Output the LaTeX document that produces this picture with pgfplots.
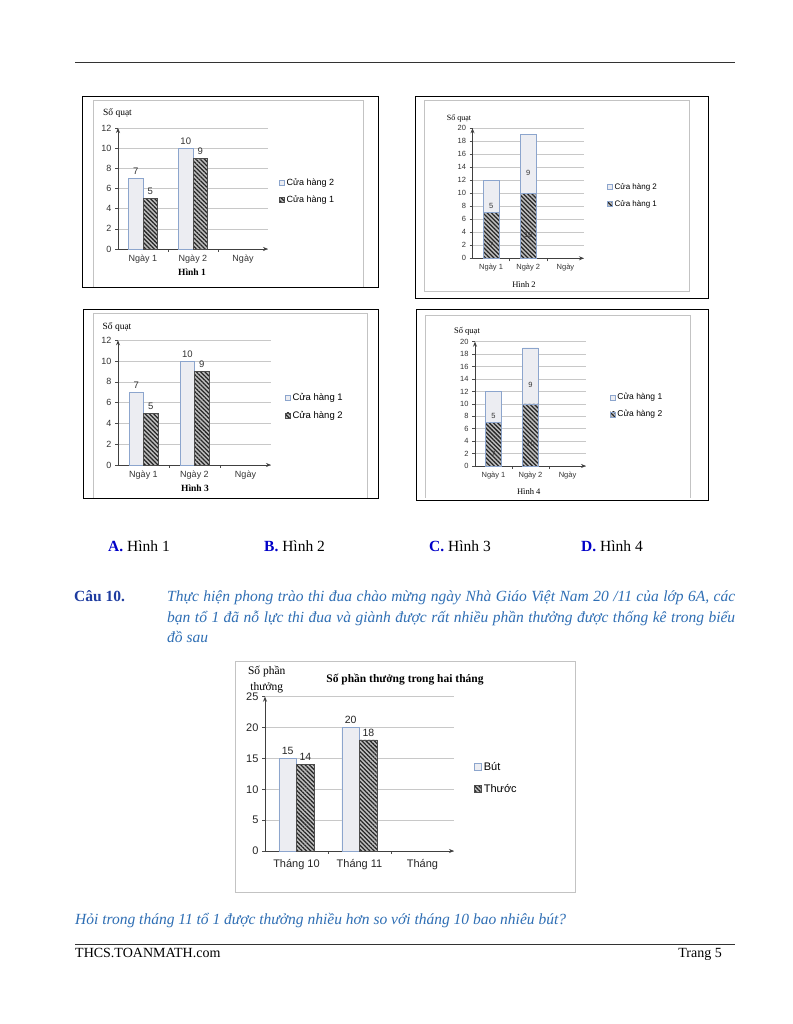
\documentclass[border=0pt]{standalone}
\usepackage{fontspec}
\setmainfont{Liberation Serif}
\newfontfamily\arial{Liberation Sans}
\usepackage{pgfplots}
\pgfplotsset{compat=1.18}
\usetikzlibrary{patterns,patterns.meta,arrows.meta}
\newcommand\fs[1]{\fontsize{#1}{#1}\selectfont}
\definecolor{lb}{RGB}{140,165,205}
\definecolor{dotc}{RGB}{150,170,205}
\definecolor{lightfill}{RGB}{244,244,246}
\definecolor{hatchfill}{RGB}{190,190,190}
\definecolor{gridc}{RGB}{200,200,200}
\definecolor{ablue}{RGB}{0,0,200}
\definecolor{cblue}{RGB}{30,60,160}
\definecolor{iblue}{RGB}{46,110,180}
\definecolor{framegray}{RGB}{195,195,195}
\pgfplotsset{
  chart/.style={
    scale only axis, axis lines=left, clip=false,
    axis line style={black!75, line width=0.7pt},
    x axis line style={-{Stealth[length=5pt,width=4pt]}},
    y axis line style={-{Stealth[length=5pt,width=4pt]}},
    xmin=-0.5, xmax=2.5, ymin=0,
    xtick={0.5,1.5}, xticklabels={,},
    extra x ticks={0,1,2},
    extra x tick style={major tick length=0pt},
    tick align=outside, major tick length=3pt,
    tick style={black!70, line width=0.5pt},
    ymajorgrids, grid style={gridc, line width=0.6pt},
    /pgf/number format/assume math mode=true,
    legend style={draw=none, fill=none, anchor=west, inner sep=0pt, outer sep=0pt},
    legend cell align=left,
  },
  light/.style={fill=lightfill, draw=lb, line width=0.6pt,
    postaction={pattern={Dots[radius=0.4pt,distance=2pt]}, pattern color=dotc}},
  hatch/.style={fill=hatchfill, draw=black!70, line width=0.6pt,
    postaction={pattern={Lines[angle=-45,distance=3pt,line width=1.25pt]}, pattern color=black!85}},
}
\begin{document}
\begin{tikzpicture}[x=1pt,y=1pt]
\fill[white] (0,0) rectangle (792,1024);
\path[use as bounding box] (0,0) rectangle (792,1024);
% top rule
\draw[black!80, line width=0.8pt] (75,962) -- (735,962);

% ---------- Hinh 1 ----------
\draw[black, line width=0.9pt] (82,928) rectangle (378,737);
\draw[framegray, line width=0.8pt] (93,737) -- (93,924) -- (363,924) -- (363,737);
\begin{axis}[chart, at={(118pt,775pt)}, anchor=south west, width=150pt, height=121pt,
  ymax=12, ytick={0,2,...,12}, ybar=0pt, bar width=14.5pt,
  extra x tick labels={Ngày 1,Ngày 2,Ngày},
  ticklabel style={font=\arial\fs{9}, text=black!80},
  xticklabel style={yshift=-2.5pt},
  nodes near coords, nodes near coords style={font=\arial\fs{9.5}, text=black!80},
  legend style={at={(1.073,0.475)}, font=\arial\fs{9}, row sep=5pt},
  legend image code/.code={\draw[#1] (0pt,-2.5pt) rectangle (5pt,2.5pt);},
]
\addplot[light] coordinates {(0,7) (1,10)};
\addlegendentry{Cửa hàng 2}
\addplot[hatch] coordinates {(0,5) (1,9)};
\addlegendentry{Cửa hàng 1}
\end{axis}
\node[font=\fs{9.5}] at (117.5,910.7) {Số quạt};
\node[font=\bfseries\fs{9.5}] at (192,752) {Hình 1};

% ---------- Hinh 2 ----------
\draw[black, line width=0.9pt] (415,928) rectangle (708,726);
\draw[framegray, line width=0.8pt] (424,733) rectangle (689,924);
\begin{axis}[chart, at={(472.5pt,765.7pt)}, anchor=south west, width=111.5pt, height=130pt,
  ymax=20, ytick={0,2,...,20}, ybar stacked, bar width=15.7pt,
  extra x tick labels={Ngày 1,Ngày 2,Ngày},
  ticklabel style={font=\arial\fs{7.5}, text=black!80},
  xticklabel style={yshift=-2pt},
  nodes near coords, point meta=explicit,
  nodes near coords style={font=\arial\fs{7.5}, text=black!80, anchor=north, yshift=-3pt},
  legend style={at={(1.207,0.483)}, font=\arial\fs{8}, row sep=5pt},
  reverse legend,
  legend image code/.code={\draw[#1] (0pt,-2.5pt) rectangle (5pt,2.5pt);},
]
\addplot[hatch, draw=lb] coordinates {(0,7) [7] (1,10) [10]};
\addlegendentry{Cửa hàng 1}
\addplot[light] coordinates {(0,5) [5] (1,9) [9]};
\addlegendentry{Cửa hàng 2}
\end{axis}
\node[font=\fs{8}] at (459,905.7) {Số quạt};
\node[font=\fs{8.5}] at (524,739) {Hình 2};

% ---------- Hinh 3 ----------
\draw[black, line width=0.9pt] (83,715) rectangle (378,526);
\draw[framegray, line width=0.8pt] (93,526) -- (93,711) -- (367,711) -- (367,526);
\begin{axis}[chart, at={(118pt,559pt)}, anchor=south west, width=153pt, height=124.7pt,
  ymax=12, ytick={0,2,...,12}, ybar=0pt, bar width=14.3pt,
  extra x tick labels={Ngày 1,Ngày 2,Ngày},
  ticklabel style={font=\arial\fs{9}, text=black!80},
  xticklabel style={yshift=-2.5pt},
  nodes near coords, nodes near coords style={font=\arial\fs{9.5}, text=black!80},
  legend style={at={(1.091,0.469)}, font=\arial\fs{9.5}, row sep=5pt},
  legend image code/.code={\draw[#1] (0pt,-2.5pt) rectangle (5pt,2.5pt);},
]
\addplot[light] coordinates {(0,7) (1,10)};
\addlegendentry{Cửa hàng 1}
\addplot[hatch] coordinates {(0,5) (1,9)};
\addlegendentry{Cửa hàng 2}
\end{axis}
\node[font=\fs{9.5}] at (117,697) {Số quạt};
\node[font=\bfseries\fs{9.5}] at (195,536) {Hình 3};

% ---------- Hinh 4 ----------
\draw[black, line width=0.9pt] (416,715) rectangle (708,524);
\draw[framegray, line width=0.8pt] (425,526) -- (425,709) -- (690,709) -- (690,526);
\begin{axis}[chart, at={(475pt,558pt)}, anchor=south west, width=111pt, height=124.3pt,
  ymax=20, ytick={0,2,...,20}, ybar stacked, bar width=16pt,
  extra x tick labels={Ngày 1,Ngày 2,Ngày},
  ticklabel style={font=\arial\fs{7.5}, text=black!80},
  xticklabel style={yshift=-2pt},
  nodes near coords, point meta=explicit,
  nodes near coords style={font=\arial\fs{7.5}, text=black!80, anchor=north, yshift=-3pt},
  legend style={at={(1.214,0.483)}, font=\arial\fs{8.5}, row sep=5pt},
  reverse legend,
  legend image code/.code={\draw[#1] (0pt,-2.5pt) rectangle (5pt,2.5pt);},
]
\addplot[hatch, draw=lb] coordinates {(0,7) [7] (1,10) [10]};
\addlegendentry{Cửa hàng 2}
\addplot[light] coordinates {(0,5) [5] (1,9) [9]};
\addlegendentry{Cửa hàng 1}
\end{axis}
\node[font=\fs{8.5}] at (467,693) {Số quạt};
\node[font=\fs{8.5}] at (528.7,532) {Hình 4};

% ---------- answers ----------
\node[anchor=base west, inner sep=0, font=\fs{15.5}] at (108,472) {\textcolor{ablue}{\textbf{A.}}\ Hình 1};
\node[anchor=base west, inner sep=0, font=\fs{15.5}] at (264,472) {\textcolor{ablue}{\textbf{B.}} Hình 2};
\node[anchor=base west, inner sep=0, font=\fs{15.5}] at (429,472) {\textcolor{ablue}{\textbf{C.}} Hình 3};
\node[anchor=base west, inner sep=0, font=\fs{15.5}] at (581,472) {\textcolor{ablue}{\textbf{D.}} Hình 4};

% ---------- Cau 10 ----------
\node[anchor=base west, inner sep=0, font=\bfseries\fs{15.5}, text=cblue] at (74,422) {Câu 10.};
\node[anchor=base west, inner sep=0, font=\itshape\fs{15.5}, text=iblue] at (167,422)
  {\makebox[568pt][s]{Thực hiện phong trào thi đua chào mừng ngày Nhà Giáo Việt Nam 20 /11 của lớp 6A, các}};
\node[anchor=base west, inner sep=0, font=\itshape\fs{15.5}, text=iblue] at (167,401.5)
  {\makebox[568pt][s]{bạn tổ 1 đã nỗ lực thi đua và giành được rất nhiều phần thưởng được thống kê trong biểu}};
\node[anchor=base west, inner sep=0, font=\itshape\fs{15.5}, text=iblue] at (167,381) {đồ sau};

% ---------- chart 5 ----------
\draw[framegray, line width=1pt] (235,362) rectangle (575,131);
\begin{axis}[chart, at={(265pt,173pt)}, anchor=south west, width=189pt, height=154.3pt,
  ymax=25, ytick={0,5,...,25}, ybar=0pt, bar width=17.7pt,
  extra x tick labels={Tháng 10,Tháng 11,Tháng},
  ticklabel style={font=\arial\fs{11}, text=black!85},
  xticklabel style={yshift=-5pt},
  nodes near coords, nodes near coords style={font=\arial\fs{10.5}, text=black!85},
  legend style={at={(1.107,0.473)}, font=\arial\fs{11}, row sep=8pt},
  legend image code/.code={\draw[#1] (0pt,-3.5pt) rectangle (7pt,3.5pt);},
]
\addplot[light] coordinates {(0,15) (1,20)};
\addlegendentry{Bút}
\addplot[hatch] coordinates {(0,14) (1,18)};
\addlegendentry{Thước}
\end{axis}
\node[font=\bfseries\fs{11.5}] at (405,344) {Số phần thưởng trong hai tháng};
\node[font=\fs{11.5}] at (266.7,352) {Số phần};
\node[font=\fs{11.5}] at (266.7,336) {thưởng};

% ---------- question & footer ----------
\node[anchor=base west, inner sep=0, font=\itshape\fs{15.5}, text=iblue] at (75,99)
  {Hỏi trong tháng 11 tổ 1 được thưởng nhiều hơn so với tháng 10 bao nhiêu bút?};
\draw[black!80, line width=0.8pt] (75,80) -- (735,80);
\node[anchor=base west, inner sep=0, font=\fs{14}] at (75,66) {THCS.TOANMATH.com};
\node[anchor=base east, inner sep=0, font=\fs{14}] at (722,66) {Trang 5};
\end{tikzpicture}
\end{document}
